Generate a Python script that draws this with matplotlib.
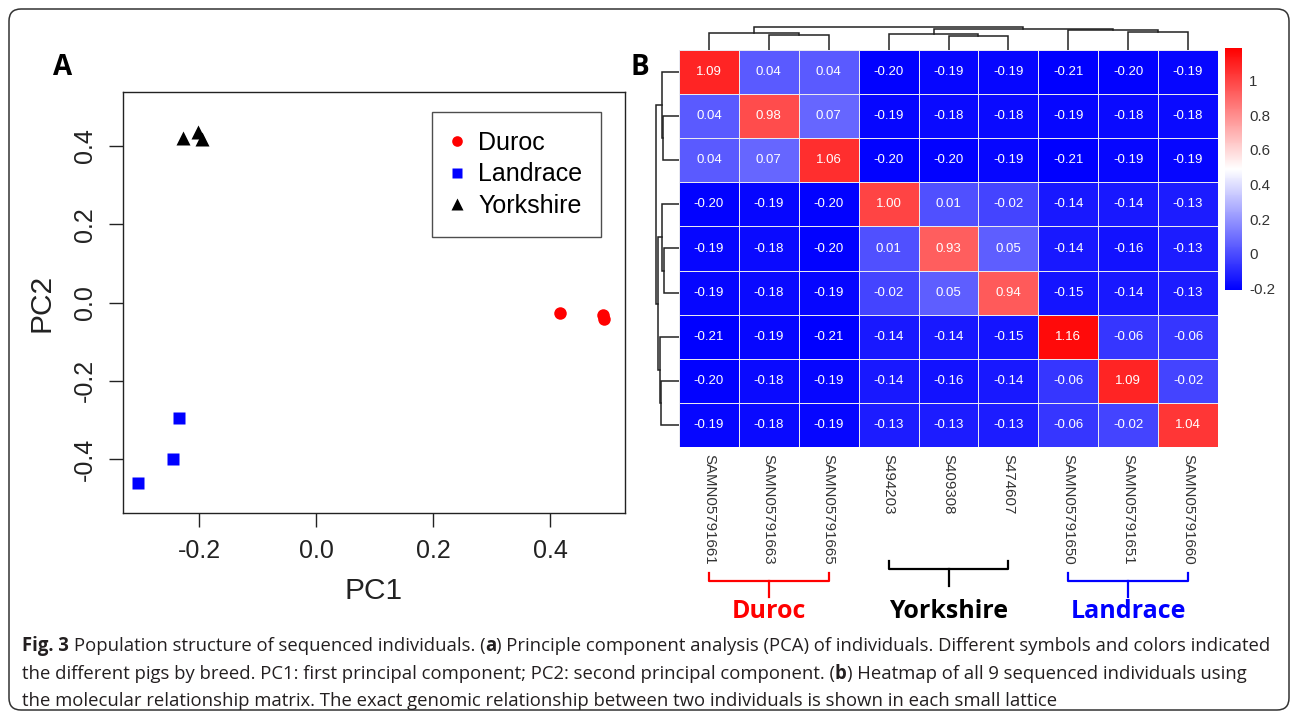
import numpy as np
import matplotlib
matplotlib.use('Agg')
import matplotlib.pyplot as plt
from matplotlib.colors import LinearSegmentedColormap
from matplotlib.patches import FancyBboxPatch
from matplotlib.transforms import blended_transform_factory
from matplotlib import font_manager

# ---- panel A : PCA scores ----
duroc_pc1 = [0.417, 0.491, 0.492]
duroc_pc2 = [-0.027, -0.033, -0.042]
landrace_pc1 = [-0.234, -0.244, -0.304]
landrace_pc2 = [-0.295, -0.401, -0.462]
yorkshire_pc1 = [-0.227, -0.202, -0.195]
yorkshire_pc2 = [0.420, 0.436, 0.418]
pca_ticks = [-0.4, -0.2, 0.0, 0.2, 0.4]

# ---- panel B : relationship matrix ----
samples = ['SAMN05791661', 'SAMN05791663', 'SAMN05791665', 'S494203', 'S409308',
           'S474607', 'SAMN05791650', 'SAMN05791651', 'SAMN05791660']
grm = [
    [1.09, 0.04, 0.04, -0.20, -0.19, -0.19, -0.21, -0.20, -0.19],
    [0.04, 0.98, 0.07, -0.19, -0.18, -0.18, -0.19, -0.18, -0.18],
    [0.04, 0.07, 1.06, -0.20, -0.20, -0.19, -0.21, -0.19, -0.19],
    [-0.20, -0.19, -0.20, 1.00, 0.01, -0.02, -0.14, -0.14, -0.13],
    [-0.19, -0.18, -0.20, 0.01, 0.93, 0.05, -0.14, -0.16, -0.13],
    [-0.19, -0.18, -0.19, -0.02, 0.05, 0.94, -0.15, -0.14, -0.13],
    [-0.21, -0.19, -0.21, -0.14, -0.14, -0.15, 1.16, -0.06, -0.06],
    [-0.20, -0.18, -0.19, -0.14, -0.16, -0.14, -0.06, 1.09, -0.02],
    [-0.19, -0.18, -0.19, -0.13, -0.13, -0.13, -0.06, -0.02, 1.04],
]
# dendrogram merges: (left node, right node, height); leaves 0..8, new nodes 9..
top_links = [(1, 2, 15.3), (0, 9, 16.7), (4, 5, 14.3), (3, 11, 15.7),
             (7, 8, 18.0), (6, 13, 19.7), (12, 14, 20.7), (10, 15, 23.0)]
left_links = [(1, 2, 16.0), (0, 9, 17.3), (4, 5, 15.0), (3, 11, 16.7),
              (7, 8, 18.3), (6, 13, 19.3), (12, 14, 20.7), (10, 15, 23.3)]
cbar_ticks = [-0.2, 0, 0.2, 0.4, 0.6, 0.8, 1]
cbar_labels = ['-0.2', '0', '0.2', '0.4', '0.6', '0.8', '1']
groups = ['Duroc', 'Yorkshire', 'Landrace']
group_cols = [(0, 2), (3, 5), (6, 8)]
group_colors = ['#ff0000', '#000000', '#0000ff']

W, H = 1292, 716
fig = plt.figure(figsize=(W / 100, H / 100), dpi=100)
plt.rcParams['font.family'] = ['Liberation Sans', 'DejaVu Sans']


def fbox(x0, y0, x1, y1):
    # pixel box (top-left origin) -> figure fraction rect
    return [x0 / W, 1 - y1 / H, (x1 - x0) / W, (y1 - y0) / H]


# overlay for frame, brackets, caption
over = fig.add_axes([0, 0, 1, 1], zorder=-1)
over.set_xlim(0, W)
over.set_ylim(H, 0)
over.axis('off')
over.add_patch(FancyBboxPatch((9, 9), 1280, 701, boxstyle='round,pad=0,rounding_size=12',
                              fill=False, ec='#333333', lw=1.1))

# ---------------- panel A ----------------
ax = fig.add_axes(fbox(123, 92, 625, 513))
ax.plot(duroc_pc1, duroc_pc2, 'o', color='#ff0000', ms=9, mec='none', label='Duroc')
ax.plot(landrace_pc1, landrace_pc2, 's', color='#0000ff', ms=8, mec='none', label='Landrace')
ax.plot(yorkshire_pc1, yorkshire_pc2, '^', color='black', ms=9.5, mec='none', label='Yorkshire')
ax.set_xlim(-0.330, 0.528)
ax.set_ylim(-0.538, 0.538)
ax.set_xticks(pca_ticks[1:])
ax.set_xticklabels(['%.1f' % t for t in pca_ticks[1:]])
ax.set_yticks(pca_ticks)
ax.set_yticklabels(['%.1f' % t for t in pca_ticks])
ax.tick_params(length=10, width=1, labelsize=18, pad=9, colors='#222222')
ax.tick_params(axis='y', labelrotation=90)
for lab in ax.get_yticklabels():
    lab.set_va('center')
for s in ax.spines.values():
    s.set_linewidth(1)
    s.set_color('#222222')
ax.set_xlabel('PC1', fontsize=21.5, labelpad=10, color='#222222')
ax.set_ylabel('PC2', fontsize=21.5, labelpad=12, color='#222222')
leg = ax.legend(loc='upper right', bbox_to_anchor=(0.952, 0.952), borderaxespad=0,
                fancybox=False, edgecolor='#222222', prop={'size': 18},
                handlelength=0.5, handletextpad=0.6, labelspacing=0.3,
                borderpad=0.75, markerscale=0.85)
leg.get_frame().set_linewidth(1)

over.text(63, 75, 'A', fontsize=20, weight='bold', family=['Open Sans', 'DejaVu Sans'],
          ha='center', va='baseline')
over.text(640, 75, 'B', fontsize=20, weight='bold', family=['Open Sans', 'DejaVu Sans'],
          ha='center', va='baseline')

# ---------------- panel B ----------------
cmap = LinearSegmentedColormap.from_list('bwr_r', ['#0000ff', '#ffffff', '#ff0000'])
vmin, vmax = -0.21, 1.19
n = len(samples)
hm = fig.add_axes(fbox(679, 50, 1218, 447))
mesh = hm.pcolormesh(np.arange(n + 1), np.arange(n + 1), np.array(grm), cmap=cmap,
                     vmin=vmin, vmax=vmax, edgecolors='#e8e8f0', linewidth=0.6)
hm.set_xlim(0, n)
hm.set_ylim(n, 0)
for i in range(n):
    for j in range(n):
        hm.text(j + 0.5, i + 0.5, '%.2f' % grm[i][j], ha='center', va='center',
                color='white', fontsize=9.5)
hm.set_xticks(np.arange(n) + 0.5)
hm.set_xticklabels(samples, rotation=270, fontsize=10.8, color='#333333', va='top')
hm.set_yticks([])
hm.tick_params(axis='x', length=0, pad=5)
for s in hm.spines.values():
    s.set_visible(False)


def dendro(dax, links, orient):
    pos = {i: (i + 0.5, 0.0) for i in range(n)}
    for k, (a, b, h) in enumerate(links):
        xa, ha = pos[a]
        xb, hb = pos[b]
        xs = [xa, xa, xb, xb]
        hs = [ha, h, h, hb]
        if orient == 'top':
            dax.plot(xs, hs, color='#222222', lw=1.1, solid_joinstyle='miter')
        else:
            dax.plot(hs, xs, color='#222222', lw=1.1, solid_joinstyle='miter')
        pos[n + k] = ((xa + xb) / 2, h)


dtop = fig.add_axes(fbox(679, 24, 1218, 50))
dendro(dtop, top_links, 'top')
dtop.set_xlim(0, n)
dtop.set_ylim(0, 26)
dtop.axis('off')

dleft = fig.add_axes(fbox(653, 50, 679, 447))
dendro(dleft, left_links, 'left')
dleft.set_xlim(26, 0)
dleft.set_ylim(n, 0)
dleft.axis('off')

cax = fig.add_axes(fbox(1225, 48, 1242, 290))
cb = fig.colorbar(mesh, cax=cax)
cb.outline.set_visible(False)
cb.set_ticks(cbar_ticks)
cb.set_ticklabels(cbar_labels)
cax.tick_params(length=0, pad=5, labelsize=10.9, labelcolor='#333333')

# group brackets under the column labels
btr = blended_transform_factory(hm.transData, over.transData)
bk_y = [(573, 581, 597), (561, 569, 586), (573, 581, 597)]
for name, (c0, c1), col, (ye, yh, yc) in zip(groups, group_cols, group_colors, bk_y):
    x0, x1 = c0 + 0.5, c1 + 0.5
    xm = (x0 + x1) / 2
    over.plot([x0, x0, x1, x1], [ye, yh, yh, ye], color=col, lw=1.6, transform=btr)
    over.plot([xm, xm], [yh, yc], color=col, lw=1.6, transform=btr)
    over.text(xm, 618, name, color=col, fontsize=18, weight='bold', ha='center',
              va='baseline', family=['Open Sans', 'DejaVu Sans'], transform=btr)

# ---------------- caption ----------------
names = set(f.name for f in font_manager.fontManager.ttflist)
cap_font = 'Liberation Sans Narrow' if 'Liberation Sans Narrow' in names else 'Open Sans'
renderer = fig.canvas.get_renderer()

cap_lines = [
    [('Fig. 3', True), (' ', False), ('Population structure of sequenced individuals. (', False),
     ('a', True), (') Principle component analysis (PCA) of individuals. Different symbols and colors indicated', False)],
    [('the different pigs by breed. PC1: first principal component; PC2: second principal component. (', False),
     ('b', True), (') Heatmap of all 9 sequenced individuals using', False)],
    [('the molecular relationship matrix. The exact genomic relationship between two individuals is shown in each small lattice', False)],
]
cap_base = [651, 679, 706]


def seg_width(txt, bold, size):
    t = over.text(0, 0, txt, fontsize=size, weight='bold' if bold else 'normal', family=cap_font)
    w = t.get_window_extent(renderer).width
    t.remove()
    return w


def line_width(segs, size):
    sw = seg_width('x x', False, size) - seg_width('xx', False, size)
    return sum(sw if txt == ' ' else seg_width(txt, b, size) for txt, b in segs)


cap_size = 12 * 1244 / line_width(cap_lines[0], 12)
space_w = seg_width('x x', False, cap_size) - seg_width('xx', False, cap_size)
for segs, yb in zip(cap_lines, cap_base):
    x = 22
    for txt, bold in segs:
        if txt == ' ':
            x += space_w
            continue
        t = over.text(x, yb, txt, fontsize=cap_size, weight='bold' if bold else 'normal',
                      family=cap_font, ha='left', va='baseline', color='#231f20')
        x += t.get_window_extent(renderer).width

fig.savefig('out.png', dpi=100)
